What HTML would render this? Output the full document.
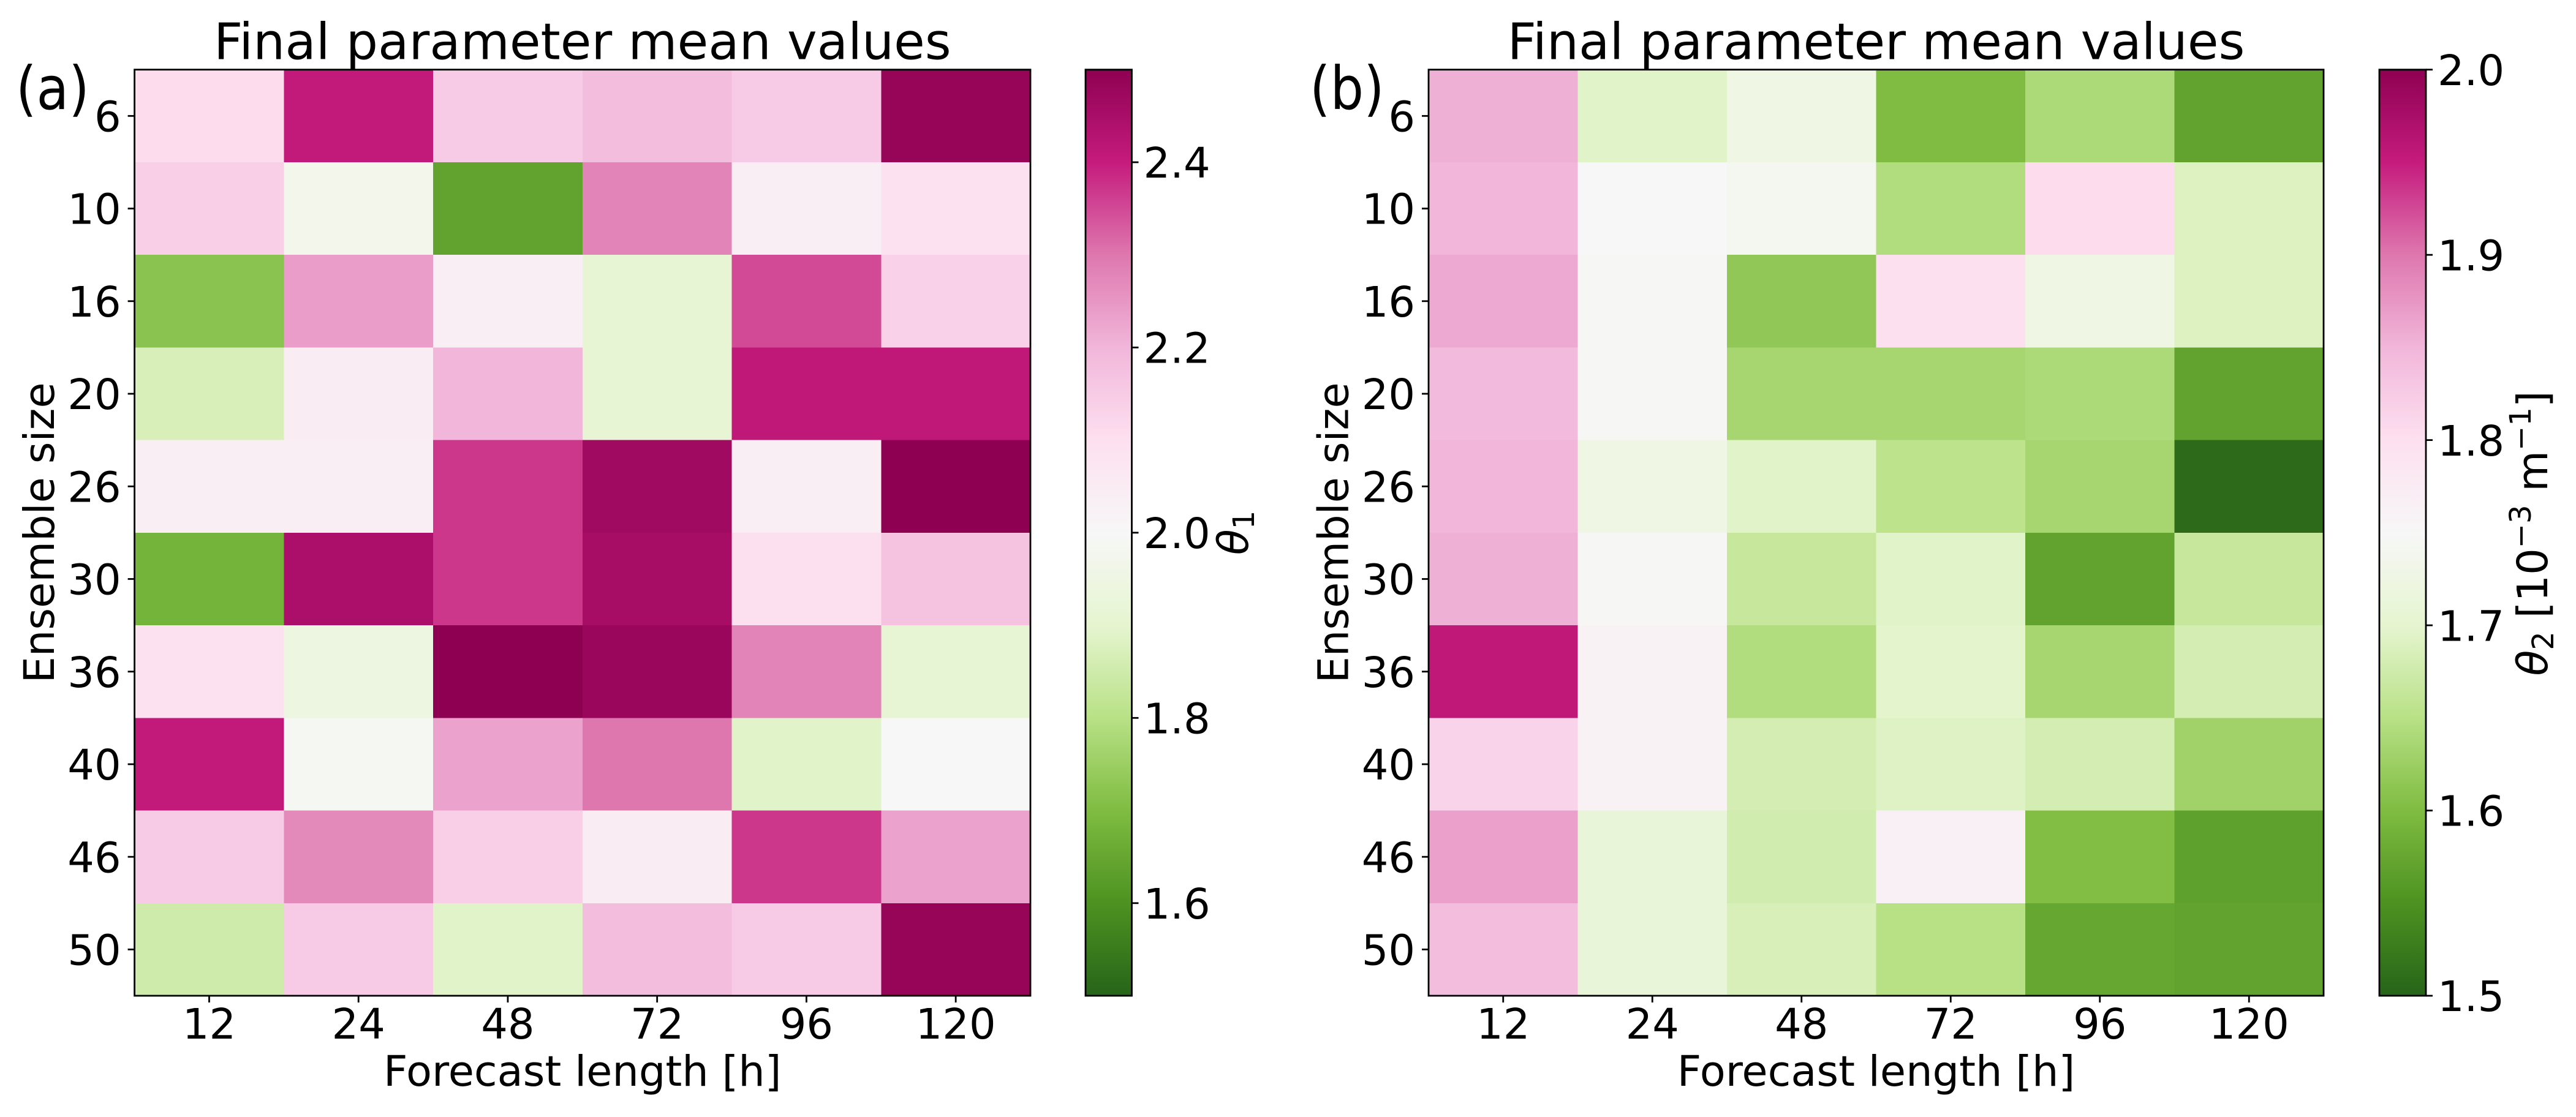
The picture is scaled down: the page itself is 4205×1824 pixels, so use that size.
<!DOCTYPE html>
<html lang="en">
<head>
<meta charset="utf-8">
<title>Final parameter mean values</title>
<style>
  html, body { margin: 0; padding: 0; background: #fff; }
  svg { display: block; }
  text { font-family: "DejaVu Sans", "Liberation Sans", sans-serif; fill: #000; }
</style>
</head>
<body>
<svg id="figure" xmlns="http://www.w3.org/2000/svg" width="4205" height="1824" viewBox="0 0 4205 1824"></svg>
<script>
const forecastLengths = ["12", "24", "48", "72", "96", "120"];
const ensembleSizes = ["6", "10", "16", "20", "26", "30", "36", "40", "46", "50"];

const thetaOneValues = [
  [2.11, 2.405, 2.15, 2.18, 2.15, 2.485],
  [2.14, 1.97, 1.64, 2.28, 2.04, 2.09],
  [1.72, 2.24, 2.04, 1.91, 2.35, 2.135],
  [1.87, 2.05, 2.20, 1.91, 2.41, 2.41],
  [2.04, 2.04, 2.37, 2.465, 2.04, 2.50],
  [1.68, 2.445, 2.37, 2.455, 2.10, 2.17],
  [2.09, 1.94, 2.50, 2.48, 2.28, 1.91],
  [2.405, 1.99, 2.23, 2.30, 1.89, 2.00],
  [2.15, 2.27, 2.14, 2.05, 2.37, 2.23],
  [1.85, 2.15, 1.89, 2.18, 2.15, 2.485]
];

const thetaTwoValues = [
  [1.855, 1.695, 1.725, 1.60, 1.64, 1.57],
  [1.85, 1.75, 1.74, 1.645, 1.805, 1.69],
  [1.86, 1.7475, 1.615, 1.80, 1.725, 1.69],
  [1.845, 1.7475, 1.635, 1.635, 1.64, 1.57],
  [1.85, 1.725, 1.695, 1.655, 1.635, 1.5075],
  [1.855, 1.7475, 1.665, 1.695, 1.57, 1.665],
  [1.955, 1.76, 1.645, 1.6975, 1.635, 1.68],
  [1.815, 1.76, 1.68, 1.6925, 1.68, 1.63],
  [1.8675, 1.71, 1.6775, 1.765, 1.6025, 1.5675],
  [1.84, 1.71, 1.685, 1.65, 1.575, 1.57]
];

const colorbarTicksA = ["1.6", "1.8", "2.0", "2.2", "2.4"];
const colorbarTicksB = ["1.5", "1.6", "1.7", "1.8", "1.9", "2.0"];
const colorAnchors = ["#276419", "#4d9221", "#7fbc41", "#b8e186", "#e6f5d0", "#f7f7f7", "#fde0ef", "#f1b6da", "#de77ae", "#c51b7d", "#8e0152"];

const svgNS = "http://www.w3.org/2000/svg";
const figure = document.getElementById("figure");
const plotTop = 113.7;
const plotBottom = 1626;
const tickLabelSize = 68.6;
const titleSize = 82.3;
const panelLabelSize = 86;

function make(tag, parent, attrs, content) {
  const node = document.createElementNS(svgNS, tag);
  for (const key in attrs) node.setAttribute(key, attrs[key]);
  if (content !== undefined) node.textContent = content;
  parent.appendChild(node);
  return node;
}

function hexToRgb(hex) {
  return [1, 3, 5].map(function (i) { return parseInt(hex.slice(i, i + 2), 16); });
}

function colorFor(t) {
  const clamped = Math.min(1, Math.max(0, t));
  const pos = clamped * (colorAnchors.length - 1);
  const low = Math.min(colorAnchors.length - 2, Math.floor(pos));
  const frac = pos - low;
  const a = hexToRgb(colorAnchors[low]);
  const b = hexToRgb(colorAnchors[low + 1]);
  const mix = a.map(function (c, i) { return Math.round(c + (b[i] - c) * frac); });
  return "rgb(" + mix.join(",") + ")";
}

function drawPanel(cfg) {
  const plotWidth = cfg.right - cfg.left;
  const cellWidth = plotWidth / forecastLengths.length;
  const cellHeight = (plotBottom - plotTop) / ensembleSizes.length;
  const xScale = function (i) { return cfg.left + i * cellWidth; };
  const yScale = function (i) { return plotTop + i * cellHeight; };
  const normalize = function (v) { return (v - cfg.vmin) / (cfg.vmax - cfg.vmin); };
  const cbarY = function (v) { return plotBottom - normalize(v) * (plotBottom - plotTop); };

  const group = make("g", figure, {});
  
  

  cfg.values.forEach(function (row, r) {
    row.forEach(function (value, c) {
      const cell = make("rect", group, {
        x: xScale(c), y: yScale(r),
        width: cellWidth + 0.5, height: cellHeight + 0.5,
        fill: colorFor(normalize(value)),
        "shape-rendering": "crispEdges"
      });
      
      
      make("title", cell, {}, "Ensemble " + ensembleSizes[r] + ", forecast " + forecastLengths[c] + " h: " + value);
    });
  });

  const frame = make("rect", group, {
    x: cfg.left, y: plotTop, width: plotWidth, height: plotBottom - plotTop,
    fill: "none", stroke: "#000", "stroke-width": 2.8
  });
  
  

  forecastLengths.forEach(function (label, i) {
    const x = xScale(i + 0.5);
    const tick = make("line", group, { x1: x, x2: x, y1: plotBottom, y2: plotBottom + 11, stroke: "#000", "stroke-width": 2.8 });
    
    
    const text = make("text", group, { x: x, y: 1696, "font-size": tickLabelSize, "text-anchor": "middle" }, label);
    
    
  });

  ensembleSizes.forEach(function (label, i) {
    const y = yScale(i + 0.5);
    const tick = make("line", group, { x1: cfg.left - 11, x2: cfg.left, y1: y, y2: y, stroke: "#000", "stroke-width": 2.8 });
    
    
    const text = make("text", group, { x: cfg.left - 22, y: y + 25.2, "font-size": tickLabelSize, "text-anchor": "end" }, label);
    
    
  });

  const title = make("text", group, { x: (cfg.left + cfg.right) / 2, y: 96.7, "font-size": titleSize, "text-anchor": "middle" }, "Final parameter mean values");
  
  

  const panelLabel = make("text", group, {
    transform: "translate(" + cfg.panelX + " 178) scale(1 1.13)",
    "font-size": panelLabelSize
  }, cfg.panelLabel);
  
  

  const xLabel = make("text", group, { x: (cfg.left + cfg.right) / 2, y: 1773, "font-size": tickLabelSize, "text-anchor": "middle" }, "Forecast length [h]");
  
  

  const yLabel = make("text", group, {
    transform: "translate(" + (cfg.left - 131.6) + " " + (plotTop + plotBottom) / 2 + ") rotate(-90)",
    "font-size": tickLabelSize, "text-anchor": "middle"
  }, "Ensemble size");
  
  

  const defs = make("defs", group, {});
  const gradient = make("linearGradient", defs, { id: cfg.gradientId, x1: 0, x2: 0, y1: 1, y2: 0 });
  colorAnchors.forEach(function (color, i) {
    make("stop", gradient, { offset: i / (colorAnchors.length - 1), "stop-color": color });
  });

  const bar = make("rect", group, {
    x: cfg.barLeft, y: plotTop, width: cfg.barRight - cfg.barLeft, height: plotBottom - plotTop,
    fill: "url(#" + cfg.gradientId + ")", stroke: "#000", "stroke-width": 2.8
  });
  
  

  cfg.ticks.forEach(function (label) {
    const y = cbarY(parseFloat(label));
    const tick = make("line", group, { x1: cfg.barRight, x2: cfg.barRight + 11, y1: y, y2: y, stroke: "#000", "stroke-width": 2.8 });
    
    
    const text = make("text", group, { x: cfg.barRight + 19, y: y + 25.2, "font-size": tickLabelSize }, label);
    
    
  });

  const cbarLabel = make("text", group, {
    transform: "translate(" + cfg.labelX + " " + cfg.labelY + ") rotate(-90)",
    "font-size": tickLabelSize, "text-anchor": "middle"
  });
  
  
  cfg.labelParts.forEach(function (part) {
    const attrs = {};
    if (part.italic) attrs["font-style"] = "italic";
    if (part.small) attrs["font-size"] = 48;
    if (part.dy) attrs.dy = part.dy;
    const span = make("tspan", cbarLabel, attrs, part.text);
    span.setAttribute("xml:space", "preserve");
  });
}

drawPanel({
  name: "panel-a",
  panelLabel: "(a)",
  panelX: 26,
  left: 219.6,
  right: 1682,
  barLeft: 1772,
  barRight: 1847.5,
  vmin: 1.5,
  vmax: 2.5,
  values: thetaOneValues,
  ticks: colorbarTicksA,
  gradientId: "cmap-a",
  labelX: 2037,
  labelY: 870,
  labelParts: [
    { text: "θ", italic: true },
    { text: "1", small: true, dy: 10 }
  ]
});

drawPanel({
  name: "panel-b",
  panelLabel: "(b)",
  panelX: 2138,
  left: 2332,
  right: 3793,
  barLeft: 3884,
  barRight: 3960,
  vmin: 1.5,
  vmax: 2.0,
  values: thetaTwoValues,
  ticks: colorbarTicksB,
  gradientId: "cmap-b",
  labelX: 4158,
  labelY: 871,
  labelParts: [
    { text: "θ", italic: true },
    { text: "2", small: true, dy: 10 },
    { text: " [10", dy: -10 },
    { text: "−3", small: true, dy: -27 },
    { text: " m", dy: 27 },
    { text: "−1", small: true, dy: -27 },
    { text: "]", dy: 27 }
  ]
});
</script>
</body>
</html>
